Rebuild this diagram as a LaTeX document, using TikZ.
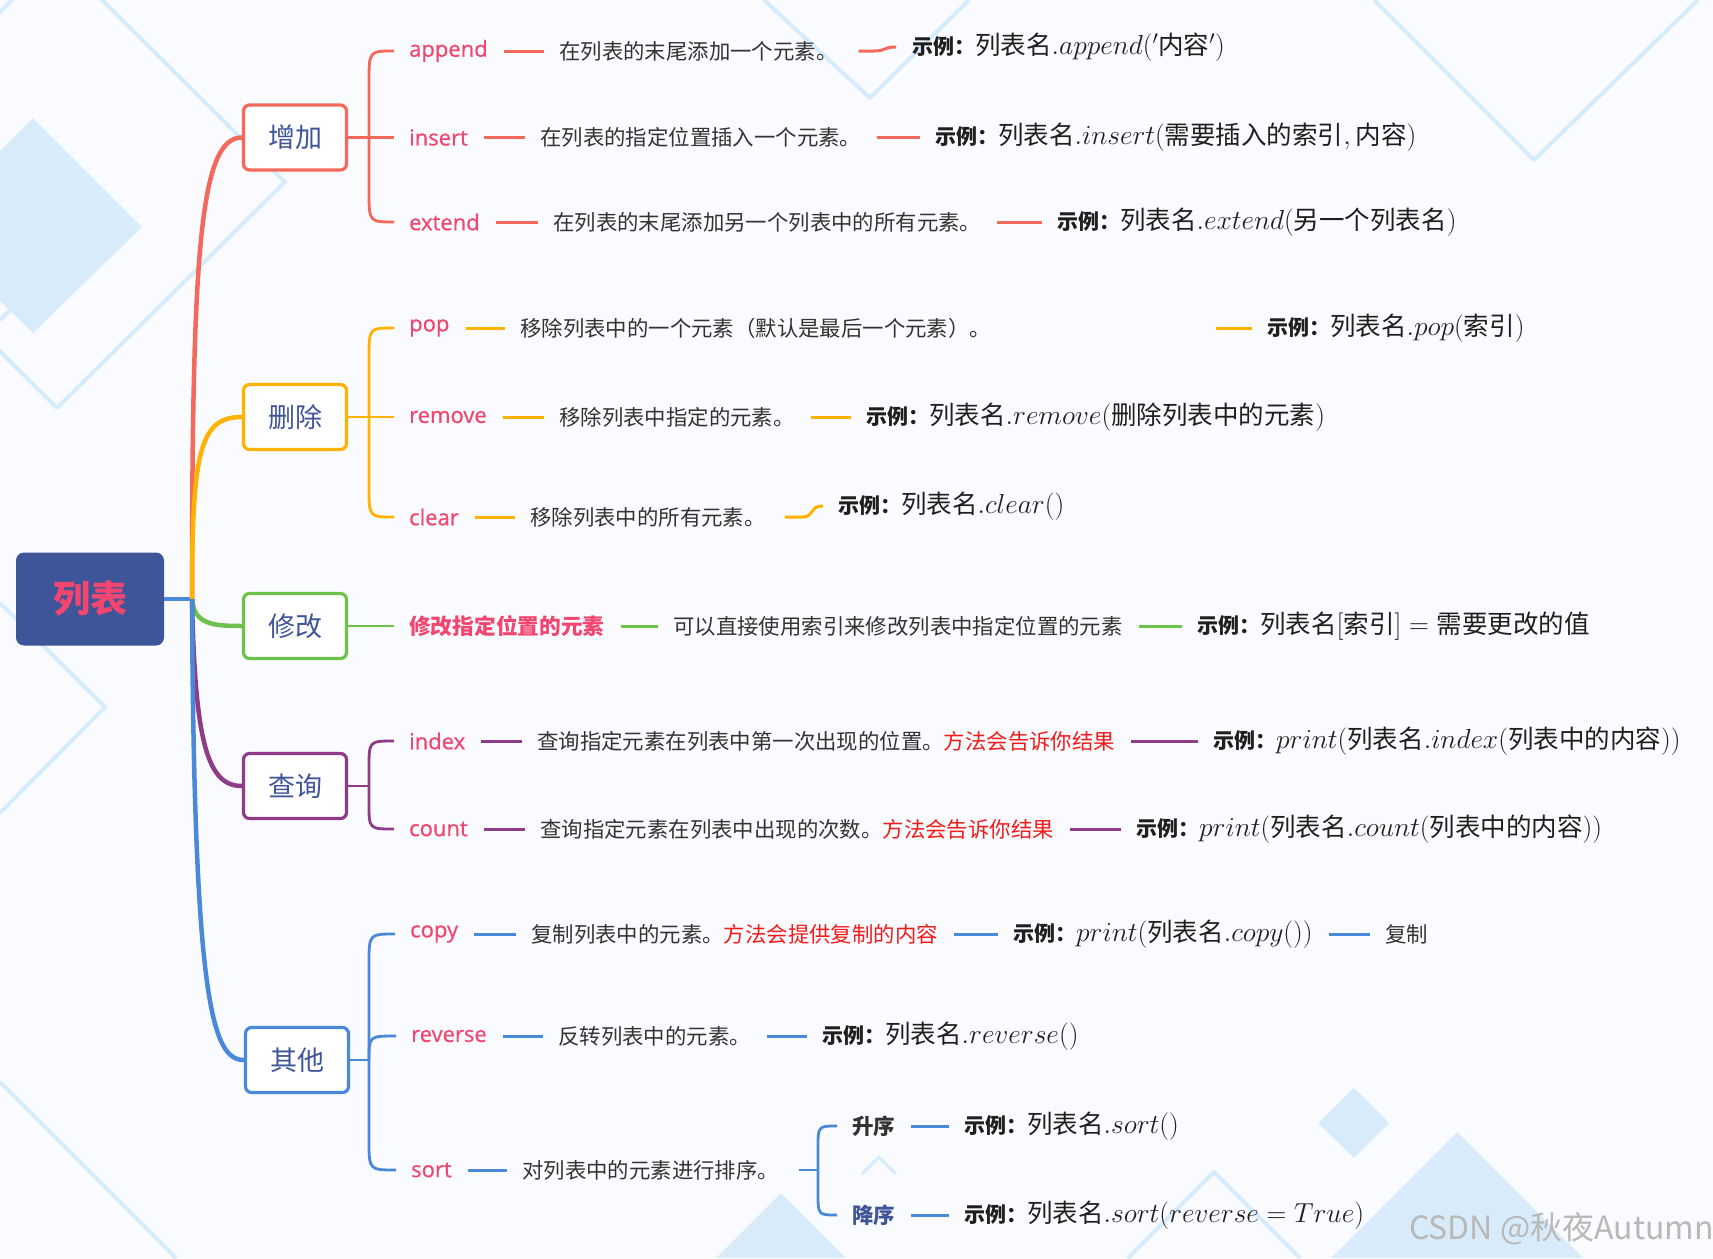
\RequirePackage{fix-cm}
\documentclass[tikz,border=0pt]{standalone}
\usepackage[no-math]{fontspec}
\setmainfont{Noto Sans CJK SC}
\newfontfamily\labfont{Open Sans}[FakeBold=0.6]
\definecolor{bgc}{HTML}{F9FBFE}
\definecolor{deco}{HTML}{D8EBFA}
\definecolor{decol}{HTML}{D6EBFC}
\definecolor{navy}{HTML}{3F5599}
\definecolor{pinkt}{HTML}{F2456F}
\definecolor{cA}{HTML}{F4695B}
\definecolor{cB}{HTML}{FFB300}
\definecolor{cC}{HTML}{6CC24A}
\definecolor{cD}{HTML}{8E3B88}
\definecolor{cE}{HTML}{4A88DA}
\definecolor{txt}{HTML}{333333}
\definecolor{hl}{HTML}{F41A1A}
\newcommand\shili{{\fontsize{21}{25}\selectfont\bfseries 示例：}}
\newcommand\mth[1]{{\fontsize{27.5}{32}\selectfont$#1$}}
\begin{document}
\begin{tikzpicture}[x=1pt,y=-1pt,
  cat/.style={draw, rounded corners=6pt, line width=3.2pt, fill=white,
    minimum width=103pt, minimum height=65pt, text=navy, inner sep=0pt,
    font=\fontsize{27}{32}\selectfont},
  lbl/.style={anchor=west, inner sep=0pt, text=pinkt, font=\labfont\fontsize{22}{26}\selectfont},
  lblc/.style={anchor=west, inner sep=0pt, text=pinkt, font=\fontsize{21.7}{26}\selectfont\bfseries},
  desc/.style={anchor=west, inner sep=0pt, text=txt, font=\fontsize{21.4}{26}\selectfont},
  ex/.style={anchor=west, inner sep=0pt, text=black!88, font=\fontsize{25.5}{30}\selectfont},
  seg/.style={line width=3pt, shorten <=16pt, shorten >=15pt},
  sseg/.style={line width=3pt},
  chl/.style={line width=2.8pt},
  mainbr/.style={line width=4.5pt},
  decofill/.style={fill=deco},
  decoline/.style={draw=decol, line width=4pt, line join=round}]
\fill[bgc] (0,0) rectangle (1713,1258);
\useasboundingbox (0,0) rectangle (1713,1258);
% background decorations
\begin{scope}
\clip (0,0) rectangle (1713,1258);
\fill[decofill] (33,118) -- (142,227) -- (33,333) -- (-76,227) -- cycle;
\draw[decoline] (285,182) -- (57,408) -- (-170,182) -- (57,-45) -- cycle;
\draw[decoline] (0,207) -- (54,267) -- (0,320);
\draw[decoline] (764,0) -- (870,98) -- (969,0);
\draw[decoline] (1374,0) -- (1534,160) -- (1698,0);
\draw[decoline] (0,603) -- (105,707) -- (0,813);
\draw[decoline] (0,1082) -- (176,1258);
\fill[decofill] (781,1193) -- (846,1258) -- (716,1258) -- cycle;
\draw[decoline, line width=3pt] (862,1174) -- (879,1157) -- (896,1174);
\fill[decofill] (1354,1088) -- (1389,1123) -- (1354,1158) -- (1318,1123) -- cycle;
\fill[decofill] (1457,1132) -- (1583,1258) -- (1331,1258) -- cycle;
\draw[decoline] (1128,1258) -- (1214,1172) -- (1300,1258);
\end{scope}

% root and categories
\node[fill=navy, rounded corners=8pt, minimum width=148pt, minimum height=93pt,
  text=pinkt, font=\fontsize{37}{44}\selectfont\bfseries] (root) at (90,599) {列表};
\node[cat, draw=cA] (A) at (295,137.5) {增加};
\node[cat, draw=cB] (B) at (295,417) {删除};
\node[cat, draw=cC] (C) at (295,626) {修改};
\node[cat, draw=cD] (D) at (295,786) {查询};
\node[cat, draw=cE] (E) at (297,1060) {其他};

\coordinate (hub) at (192,599);
\draw[mainbr, cE] (root.east) -- (hub);
\draw[mainbr, cA] (hub) .. controls (192,250) and (200,137.5) .. (A.west);
\draw[mainbr, cB] (hub) .. controls (192,450) and (200,417) .. (B.west);
\draw[mainbr, cC] (hub) .. controls (194,624) and (212,626) .. (C.west);
\draw[mainbr, cD] (hub) .. controls (195,745) and (208,786) .. (D.west);
\draw[mainbr, cE] (hub) .. controls (194,1000) and (212,1060) .. (E.west);

% ---- 增加
\node[lbl] (La) at (409,51) {append};
\node[desc] (Da) at (559,51) {在列表的末尾添加一个元素。};
\node[ex] (Ea) at (912,47) {\shili 列表名\mth{.append('}内容\mth{')}};
\node[lbl] (Li) at (409,137.5) {insert};
\node[desc] (Di) at (540,137.5) {在列表的指定位置插入一个元素。};
\node[ex] (Ei) at (935,137.5) {\shili 列表名\mth{.insert(}需要插入的索引\mth{,\,}内容\mth{)}};
\node[lbl] (Le) at (409,222) {extend};
\node[desc] (De) at (553,222) {在列表的末尾添加另一个列表中的所有元素。};
\node[ex] (Ee) at (1057,222) {\shili 列表名\mth{.extend(}另一个列表名\mth{)}};
\coordinate (ja) at (369,137.5);
\draw[chl, cA] (A.east) -- ([xshift=-15pt]Li.west);
\draw[chl, cA] (ja) -- (369,82) .. controls (369,51) .. ([xshift=-15pt]La.west);
\draw[chl, cA] (ja) -- (369,191) .. controls (369,222) .. ([xshift=-15pt]Le.west);
\draw[seg, cA] (La.east) -- (Da.west);
\draw[sseg, cA] ([xshift=21pt]Da.east) -- ([xshift=36pt]Da.east)
  .. controls ([xshift=50pt]Da.east) and ([xshift=-30pt]Ea.west) .. ([xshift=-16pt]Ea.west);
\draw[seg, cA] (Li.east) -- (Di.west);
\draw[seg, cA] (Di.east) -- (Ei.west);
\draw[seg, cA] (Le.east) -- (De.west);
\draw[seg, cA] (De.east) -- (Ee.west);

% ---- 删除
\node[lbl] (Lp) at (409,328) {pop};
\node[desc] (Dp) at (520,328) {移除列表中的一个元素（默认是最后一个元素）。};
\node[ex] (Ep) at (1267,328) {\shili 列表名\mth{.pop(}索引\mth{)}};
\node[lbl] (Lr) at (409,417) {remove};
\node[desc] (Dr) at (559,417) {移除列表中指定的元素。};
\node[ex] (Er) at (866,417) {\shili 列表名\mth{.remove(}删除列表中的元素\mth{)}};
\node[lbl] (Lc) at (409,517) {clear};
\node[desc] (Dc) at (530,517) {移除列表中的所有元素。};
\node[ex] (Ec) at (838,506) {\shili 列表名\mth{.clear()}};
\coordinate (jb) at (369,417);
\draw[chl, cB] (B.east) -- ([xshift=-15pt]Lr.west);
\draw[chl, cB] (jb) -- (369,358) .. controls (369,328) .. ([xshift=-15pt]Lp.west);
\draw[chl, cB] (jb) -- (369,487) .. controls (369,517) .. ([xshift=-15pt]Lc.west);
\draw[seg, cB] (Lp.east) -- (Dp.west);
\draw[seg, cB, shorten <=225pt] (Dp.east) -- (Ep.west);
\draw[seg, cB] (Lr.east) -- (Dr.west);
\draw[seg, cB] (Dr.east) -- (Er.west);
\draw[seg, cB] (Lc.east) -- (Dc.west);
\draw[sseg, cB] ([xshift=19pt]Dc.east) -- ([xshift=36pt]Dc.east)
  .. controls ([xshift=50pt]Dc.east) and ([xshift=-30pt]Ec.west) .. ([xshift=-15pt]Ec.west);

% ---- 修改
\node[lblc] (Lm) at (409,626) {修改指定位置的元素};
\node[desc] (Dm) at (673,626) {可以直接使用索引来修改列表中指定位置的元素};
\node[ex] (Em) at (1197,626) {\shili 列表名\mth{[}索引\mth{]={}}需要更改的值};
\draw[chl, cC] (C.east) -- ([xshift=-15pt]Lm.west);
\draw[seg, cC] (Lm.east) -- (Dm.west);
\draw[seg, cC] (Dm.east) -- (Em.west);

% ---- 查询
\node[lbl] (Lx) at (409,741) {index};
\node[desc] (Dx) at (537,741) {查询指定元素在列表中第一次出现的位置。{\color{hl}方法会告诉你结果}};
\node[ex] (Ex) at (1213,741) {\shili \mth{print(}列表名\mth{.index(}列表中的内容\mth{))}};
\node[lbl] (Lo) at (409,829) {count};
\node[desc] (Do) at (540,829) {查询指定元素在列表中出现的次数。{\color{hl}方法会告诉你结果}};
\node[ex] (Eo) at (1136,829) {\shili \mth{print(}列表名\mth{.count(}列表中的内容\mth{))}};
\coordinate (jd) at (369,786);
\draw[chl, cD] (D.east) -- (jd);
\draw[chl, cD] (jd) -- (369,768) .. controls (369,741) .. ([xshift=-15pt]Lx.west);
\draw[chl, cD] (jd) -- (369,804) .. controls (369,829) .. ([xshift=-15pt]Lo.west);
\draw[seg, cD] (Lx.east) -- (Dx.west);
\draw[seg, cD] (Dx.east) -- (Ex.west);
\draw[seg, cD] (Lo.east) -- (Do.west);
\draw[seg, cD] (Do.east) -- (Eo.west);

% ---- 其他
\node[lbl] (Ly) at (410,934) {copy};
\node[desc] (Dy) at (531,934) {复制列表中的元素。{\color{hl}方法会提供复制的内容}};
\node[ex] (Ey) at (1013,934) {\shili \mth{print(}列表名\mth{.copy())}};
\node[desc] (Ty) at (1385,934) {复制};
\node[lbl] (Lv) at (411,1036) {reverse};
\node[desc] (Dv) at (558,1036) {反转列表中的元素。};
\node[ex] (Ev) at (822,1036) {\shili 列表名\mth{.reverse()}};
\node[lbl] (Ls) at (411,1170) {sort};
\node[desc] (Ds) at (522,1170) {对列表中的元素进行排序。};
\coordinate (je) at (369,1060);
\draw[chl, cE] (E.east) -- (je);
\draw[chl, cE] (je) -- (369,964) .. controls (369,934) .. ([xshift=-15pt]Ly.west);
\draw[chl, cE] (je) .. controls (369,1036) .. ([xshift=-15pt]Lv.west);
\draw[chl, cE] (je) -- (369,1140) .. controls (369,1170) .. ([xshift=-15pt]Ls.west);
\draw[seg, cE] (Ly.east) -- (Dy.west);
\draw[seg, cE] (Dy.east) -- (Ey.west);
\draw[seg, cE] (Ey.east) -- (Ty.west);
\draw[seg, cE] (Lv.east) -- (Dv.west);
\draw[seg, cE] (Dv.east) -- (Ev.west);
\draw[seg, cE] (Ls.east) -- (Ds.west);

% sort sub-branch
\node[anchor=west, inner sep=0pt, text=txt, font=\fontsize{21.5}{26}\selectfont\bfseries] (Lu) at (852,1126) {升序};
\node[ex] (Eu) at (964,1126) {\shili 列表名\mth{.sort()}};
\node[anchor=west, inner sep=0pt, text=navy, font=\fontsize{21.5}{26}\selectfont\bfseries] (Ld) at (852,1215) {降序};
\node[ex] (Ed) at (964,1215) {\shili 列表名\mth{.sort(reverse=True)}};
\coordinate (js) at (818,1170);
\draw[chl, cE, shorten <=20pt] (Ds.east) -- (js);
\draw[chl, cE] (js) -- (818,1148) .. controls (818,1126) .. ([xshift=-15pt]Lu.west);
\draw[chl, cE] (js) -- (818,1193) .. controls (818,1215) .. ([xshift=-15pt]Ld.west);
\draw[seg, cE] (Lu.east) -- (Eu.west);
\draw[seg, cE] (Ld.east) -- (Ed.west);

% watermark
\node[anchor=west, inner sep=0pt, text=black!28, font=\fontsize{32}{38}\selectfont] (wm) at (1409,1229) {CSDN @秋夜Autumn};
\end{tikzpicture}
\end{document}
